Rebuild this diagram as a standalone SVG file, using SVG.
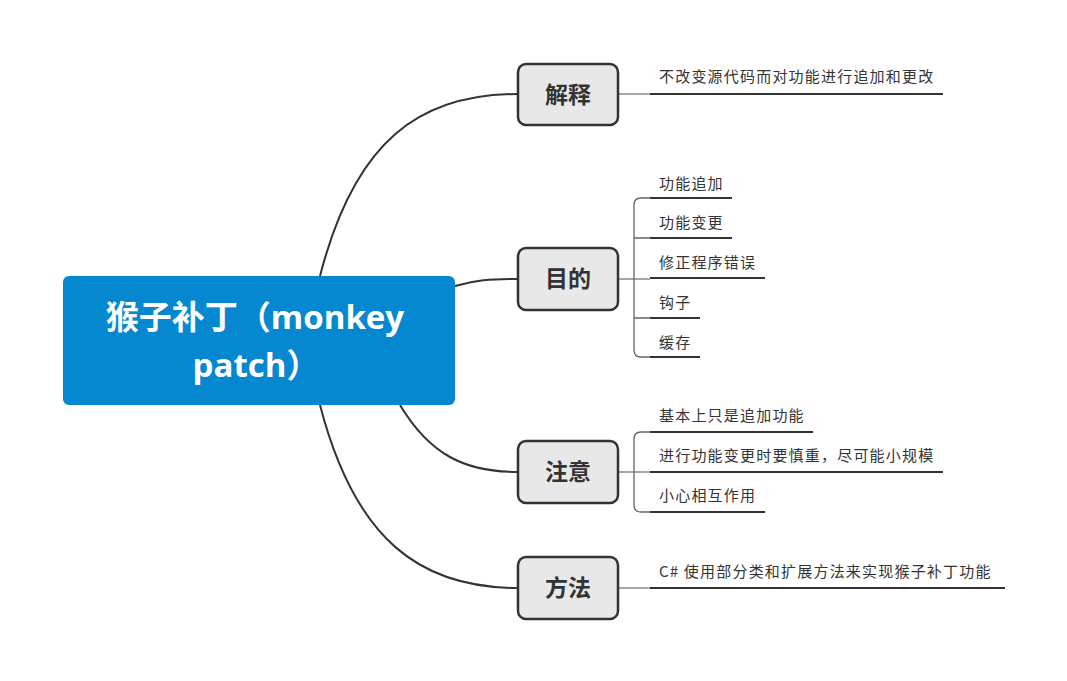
<svg xmlns="http://www.w3.org/2000/svg" width="1067" height="681" viewBox="0 0 1067 681">
<style>
.conn{fill:none;stroke:#333;stroke-width:2}
.stub{fill:none;stroke:#888;stroke-width:1.5}
.brk{fill:none;stroke:#666;stroke-width:1.3}
.ul{fill:none;stroke:#333;stroke-width:1.8}
.box{fill:#E8E8E8;stroke:#333;stroke-width:2.5}
.bt{font-family:"Noto Sans CJK SC","Noto Sans",sans-serif;font-weight:bold;font-size:23px;fill:#333;text-anchor:middle}
.lt{font-family:"Noto Sans CJK SC","Noto Sans",sans-serif;font-size:15px;fill:#333;letter-spacing:1.2px}
.ct{font-family:"Open Sans","Noto Sans CJK SC",sans-serif;font-weight:bold;font-size:33px;fill:#fff;text-anchor:middle}
</style>
<rect width="1067" height="681" fill="#fff"/>
<g id="connectors">
<path class="conn" d="M320,276 C355,140 420,94 518,94"/>
<path class="conn" d="M455,286 C475,280 490,279 518,279"/>
<path class="conn" d="M400,405 C430,455 465,472 518,472"/>
<path class="conn" d="M320,405 C355,540 420,588 518,588"/>
<path class="stub" d="M618,94 H650"/>
<path class="stub" d="M618,279 H650"/>
<path class="stub" d="M618,472 H650"/>
<path class="stub" d="M618,588 H650"/>
<path class="brk" d="M650,198 H641 Q634,198 634,205 V350 Q634,357 641,357 H650 M634,238 Q634,238 641,238 H650 M634,318 H650"/>
<path class="brk" d="M650,432 H641 Q634,432 634,439 V505 Q634,512 641,512 H650"/>
</g>
<g id="root">
<rect x="63" y="276" width="392" height="129" rx="6" fill="#0588D0"/>
<text class="ct" x="255" y="329">猴子补丁（monkey</text>
<text class="ct" x="256" y="377">patch）</text>
</g>
<g id="n-jieshi">
<rect class="box" x="518" y="64" width="100" height="61" rx="8"/>
<text class="bt" x="568" y="103">解释</text>
</g>
<g id="n-mudi">
<rect class="box" x="518" y="248" width="100" height="62" rx="8"/>
<text class="bt" x="568" y="287">目的</text>
</g>
<g id="n-zhuyi">
<rect class="box" x="518" y="441" width="100" height="62" rx="8"/>
<text class="bt" x="568" y="480">注意</text>
</g>
<g id="n-fangfa">
<rect class="box" x="518" y="557" width="100" height="62" rx="8"/>
<text class="bt" x="568" y="596">方法</text>
</g>
<g id="l1">
<path class="ul" d="M650,94 H943"/>
<text class="lt" x="659" y="82">不改变源代码而对功能进行追加和更改</text>
</g>
<g id="l2">
<path class="ul" d="M650,198 H732"/>
<text class="lt" x="659" y="189">功能追加</text>
</g>
<g id="l3">
<path class="ul" d="M650,238 H732"/>
<text class="lt" x="659" y="228">功能变更</text>
</g>
<g id="l4">
<path class="ul" d="M650,278 H765"/>
<text class="lt" x="659" y="268">修正程序错误</text>
</g>
<g id="l5">
<path class="ul" d="M650,318 H700"/>
<text class="lt" x="659" y="308">钩子</text>
</g>
<g id="l6">
<path class="ul" d="M650,357 H700"/>
<text class="lt" x="659" y="348">缓存</text>
</g>
<g id="l7">
<path class="ul" d="M650,432 H813"/>
<text class="lt" x="659" y="421">基本上只是追加功能</text>
</g>
<g id="l8">
<path class="ul" d="M650,472 H943"/>
<text class="lt" x="659" y="461">进行功能变更时要慎重，尽可能小规模</text>
</g>
<g id="l9">
<path class="ul" d="M650,512 H765"/>
<text class="lt" x="659" y="501">小心相互作用</text>
</g>
<g id="l10">
<path class="ul" d="M650,588 H1005"/>
<text class="lt" x="659" y="577">C# 使用部分类和扩展方法来实现猴子补丁功能</text>
</g>
</svg>
